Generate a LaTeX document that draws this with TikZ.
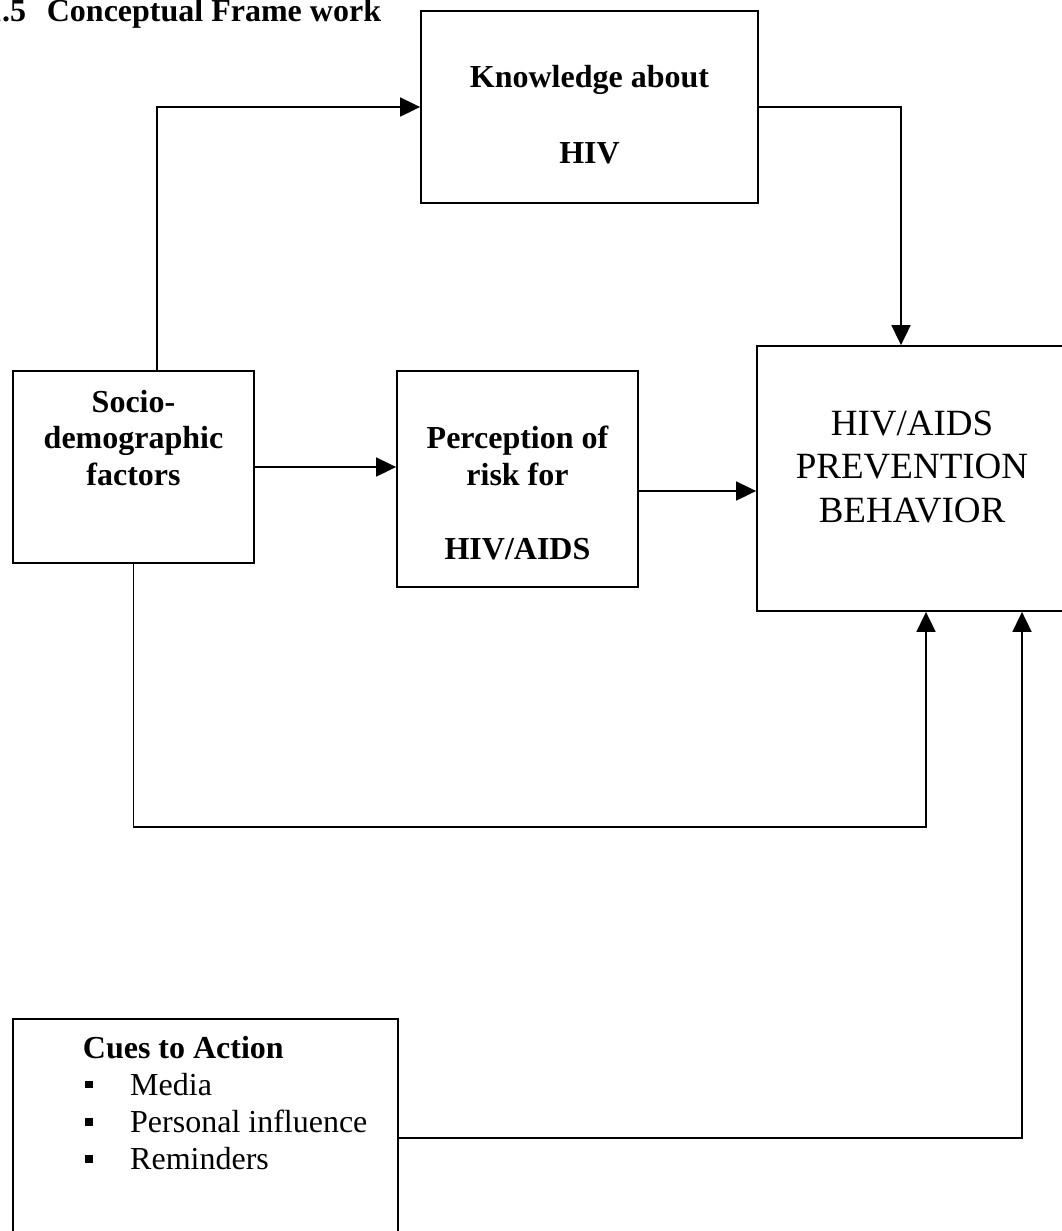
\documentclass[tikz,border=0pt]{standalone}
\usepackage{fontspec}
\setmainfont{Liberation Serif}
\usetikzlibrary{arrows.meta}
\begin{document}
\begin{tikzpicture}[x=1pt,y=-1pt,
  box/.style={draw,line width=1.8pt,inner sep=0pt,rectangle},
  bt/.style={font=\fontsize{32}{37}\selectfont\bfseries,inner sep=0pt,anchor=base},
  rt/.style={font=\fontsize{32}{37}\selectfont,inner sep=0pt,anchor=base west},
  big/.style={font=\fontsize{37}{43}\selectfont,inner sep=0pt,anchor=base},
  arr/.style={line width=1.8pt,-{Triangle[length=20pt,width=19pt]}}]
\useasboundingbox (0,0) rectangle (1061,1231);
% boxes
\node[box,minimum width=337pt,minimum height=192pt] (know) at (589.5,107) {};
\node[box,minimum width=241pt,minimum height=192pt] (socio) at (133.5,467) {};
\node[box,minimum width=241pt,minimum height=216pt] (perc) at (517.5,479) {};
\node[box,minimum width=311pt,minimum height=265pt] (hiv) at (912.5,478.5) {};
\node[box,minimum width=385pt,minimum height=238pt] (cues) at (205.5,1138) {};
% title
\node[bt,anchor=base west] (title) at (-14,21.5) {1.5\hspace{20.7pt}Conceptual Frame work};
% texts
\node[bt] (k1) at (589.5,88) {Knowledge about};
\node[bt] (k2) at (589.5,163) {HIV};
\node[bt] (s1) at (133.5,412) {Socio-};
\node[bt] (s2) at (133.5,448) {demographic};
\node[bt] (s3) at (133.5,485) {factors};
\node[bt] (p1) at (517.5,448) {Perception of};
\node[bt] (p2) at (517.5,485) {risk for};
\node[bt] (p3) at (517.5,559) {HIV/AIDS};
\node[big] (h1) at (912,435) {HIV/AIDS};
\node[big] (h2) at (912,478) {PREVENTION};
\node[big] (h3) at (912,522) {BEHAVIOR};
\node[bt,anchor=base west] (c0) at (82.7,1058) {Cues to Action};
\node[rt] (c1) at (85,1095) {\rule[6.7pt]{7.7pt}{7.6pt}\hspace{37.3pt}Media};
\node[rt] (c2) at (85,1132.7) {\rule[6.7pt]{7.7pt}{7.6pt}\hspace{37.3pt}Personal influence};
\node[rt] (c3) at (85,1169.3) {\rule[6.7pt]{7.7pt}{7.6pt}\hspace{37.3pt}Reminders};
% connectors
\coordinate (loop) at (926,827);
\draw[arr] ([xshift=23.5pt]socio.north) |- (know.west);
\draw[arr] (know.east) -| ([xshift=-11.5pt]hiv.north);
\draw[arr] (socio.east) -- (socio.east -| perc.west);
\draw[arr] ([yshift=-12pt]perc.east) -- ([yshift=-12pt]perc.east -| hiv.west);
\draw[arr] (socio.south) |- (loop) -- (loop |- hiv.south);
\draw[arr] (cues.east) -| ([xshift=109.5pt]hiv.south);
\end{tikzpicture}
\end{document}
